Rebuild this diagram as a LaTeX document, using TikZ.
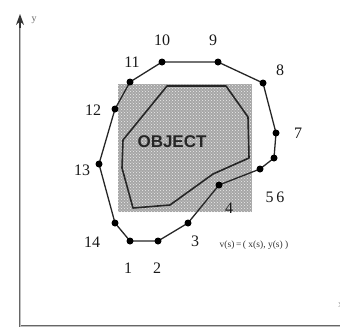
\documentclass[tikz,border=0pt]{standalone}
\usepackage{fontspec}
\setmainfont{Liberation Serif}
\newfontfamily\objfont{Liberation Sans}
\usetikzlibrary{patterns,arrows.meta}
\begin{document}
\begin{tikzpicture}[x=1pt,y=-1pt,
  dot/.style={circle,fill=black,inner sep=0pt,minimum size=7pt},
  num/.style={font=\fontsize{16}{16}\selectfont,text=black!90,inner sep=0pt},
  hull/.style={draw=black!85,line width=1.3pt,line join=round},
  obj/.style={draw=black!85,line width=1.6pt,line join=round},
  axis/.style={draw=black!60,double=black!25,double distance=0.8pt,line width=0.9pt}]
\useasboundingbox (0,0) rectangle (340,333);
% shaded area
\fill[gray!70] (118,84) rectangle (252,212);
\fill[pattern=crosshatch dots,pattern color=white!85!gray] (118,84) rectangle (252,212);
% object outline
\draw[obj] (167,86) -- (226,86) -- (248,117) -- (249,158) -- (213,174) -- (170,205) -- (133,208) -- (122,168) -- (123,140) -- cycle;
\node[font=\objfont\bfseries\fontsize{17}{17}\selectfont,text=black!85,inner sep=0pt] (object) at (172,142) {OBJECT};
% axes
\coordinate (O) at (20,326);
\coordinate (Ytop) at (20,24);
\coordinate (Xend) at (341,326);
\draw[axis] (Ytop) -- (O) -- (Xend);
\draw[black!80,line width=1.2pt,-{Stealth[length=11pt,width=8pt]}] (20,28) -- (20,14);
\node[font=\fontsize{10}{10}\selectfont,text=black!60,inner sep=0pt] (ylab) at (34,20) {y};
\node[font=\fontsize{10}{10}\selectfont,text=black!40,inner sep=0pt,anchor=west] (xlab) at (338,305) {x};
% hull points
\coordinate (p1) at (130,241);
\coordinate (p2) at (158,241);
\coordinate (p3) at (188,223);
\coordinate (p4) at (219,185);
\coordinate (p5) at (260,169);
\coordinate (p6) at (274,158);
\coordinate (p7) at (276,133);
\coordinate (p8) at (263,83);
\coordinate (p9) at (218,62);
\coordinate (p10) at (162,62);
\coordinate (p11) at (130,82);
\coordinate (p12) at (115,109);
\coordinate (p13) at (99,164);
\coordinate (p14) at (115,223);
\draw[hull] (p1) -- (p2) -- (p3) -- (p4) -- (p5) -- (p6) -- (p7) -- (p8) -- (p9) -- (p10) -- (p11) -- (p12) -- (p13) -- (p14) -- cycle;
\foreach \i in {1,...,14} {\node[dot] (d\i) at (p\i) {};}
% labels
\node[num] (l1) at (128,268) {1};
\node[num] (l2) at (157,268) {2};
\node[num] (l3) at (195,241) {3};
\node[num] (l4) at (229,208) {4};
\node[num] (l56) at (275,197) {5\,6};
\node[num] (l7) at (298,133) {7};
\node[num] (l8) at (280,70) {8};
\node[num] (l9) at (213,40) {9};
\node[num] (l10) at (162,40) {10};
\node[num] (l11) at (132,62) {11};
\node[num] (l12) at (93,110) {12};
\node[num] (l13) at (82,170) {13};
\node[num] (l14) at (92,242) {14};
\node[font=\fontsize{9.5}{9.5}\selectfont,text=black!80,inner sep=0pt] (vs) at (254,245) {v(s)\,=\,(\ x(s),\ y(s)\ )};
\end{tikzpicture}
\end{document}
